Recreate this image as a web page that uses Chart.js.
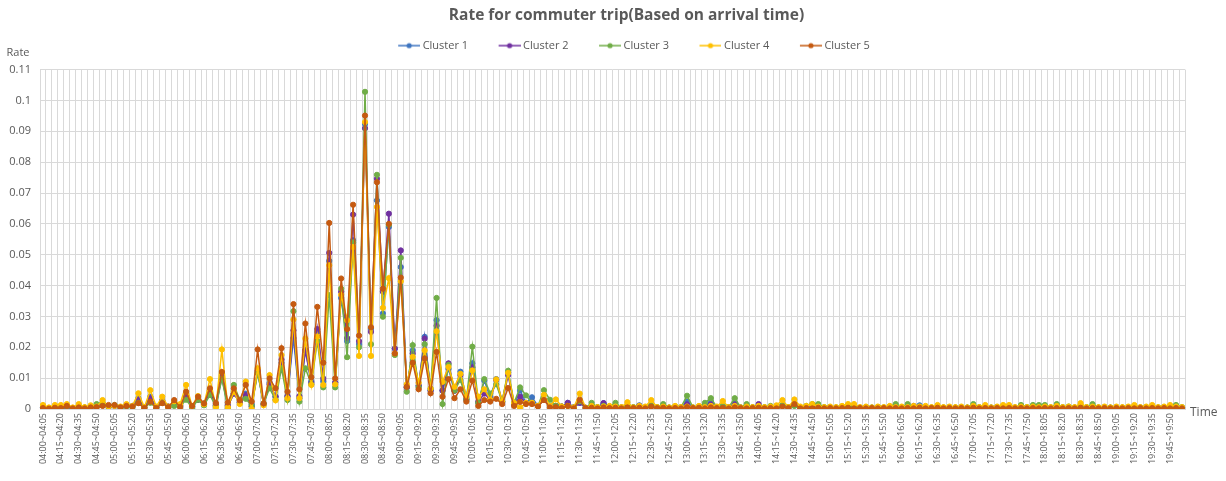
<!DOCTYPE html>
<html>
<head>
<meta charset="utf-8">
<script src="https://cdn.jsdelivr.net/npm/chart.js@4.4.1/dist/chart.umd.min.js"></script>
<style>
  html, body { margin: 0; padding: 0; background: #fff; }
  #wrap { width: 1226px; height: 481px; position: relative; }
</style>
</head>
<body>
<div id="wrap"><canvas id="chart"></canvas></div>
<script>
// 5-minute arrival slots, 04:00~04:05 ... 19:55~20:00
const slots = [];
for (let m = 4 * 60; m < 20 * 60; m += 5) {
  const f = (t) => String(Math.floor(t / 60)).padStart(2, '0') + ':' + String(t % 60).padStart(2, '0');
  slots.push(f(m) + '~' + f(m + 5));
}

const seriesNames = ['Cluster 1', 'Cluster 2', 'Cluster 3', 'Cluster 4', 'Cluster 5'];
const seriesColors = ['#3E75C0', '#7030A0', '#70AD47', '#FFC000', '#C55A11'];

const cluster1 = [
  0.0005,0.0003,0.0006,0.0004,0.0008,0.0003,0.0007,0.0004,0.0006,0.0009,0.0015,0.0008,
  0.0010,0.0006,0.0012,0.0010,0.0035,0.0005,0.0040,0.0006,0.0028,0.0008,0.0020,0.0010,
  0.0045,0.0008,0.0030,0.0018,0.0060,0.0012,0.0100,0.0010,0.0050,0.0022,0.0050,0.0015,
  0.0120,0.0015,0.0085,0.0040,0.0150,0.0040,0.0230,0.0035,0.0190,0.0090,0.0250,0.0090,
  0.0480,0.0085,0.0360,0.0220,0.0547,0.0210,0.0924,0.0260,0.0676,0.0310,0.0590,0.0196,
  0.0460,0.0070,0.0190,0.0075,0.0234,0.0060,0.0288,0.0060,0.0130,0.0060,0.0121,0.0035,
  0.0148,0.0020,0.0092,0.0040,0.0097,0.0025,0.0119,0.0015,0.0060,0.0020,0.0038,0.0010,
  0.0030,0.0010,0.0010,0.0008,0.0020,0.0005,0.0020,0.0004,0.0010,0.0005,0.0019,0.0005,
  0.0008,0.0005,0.0010,0.0004,0.0012,0.0005,0.0010,0.0004,0.0008,0.0004,0.0006,0.0005,
  0.0024,0.0004,0.0008,0.0010,0.0024,0.0005,0.0010,0.0005,0.0020,0.0005,0.0008,0.0004,
  0.0008,0.0004,0.0006,0.0004,0.0012,0.0005,0.0015,0.0004,0.0006,0.0005,0.0006,0.0004,
  0.0005,0.0004,0.0006,0.0005,0.0006,0.0004,0.0005,0.0004,0.0006,0.0004,0.0005,0.0006,
  0.0004,0.0005,0.0004,0.0012,0.0005,0.0004,0.0006,0.0004,0.0005,0.0004,0.0005,0.0004,
  0.0008,0.0004,0.0005,0.0004,0.0005,0.0006,0.0005,0.0004,0.0005,0.0004,0.0006,0.0005,
  0.0005,0.0004,0.0006,0.0004,0.0005,0.0004,0.0008,0.0004,0.0006,0.0004,0.0005,0.0004,
  0.0005,0.0004,0.0005,0.0006,0.0004,0.0005,0.0005,0.0004,0.0005,0.0006,0.0005,0.0004
];
const cluster2 = [
  0.0004,0.0003,0.0005,0.0004,0.0006,0.0003,0.0006,0.0004,0.0005,0.0008,0.0012,0.0007,
  0.0010,0.0005,0.0010,0.0009,0.0030,0.0005,0.0035,0.0005,0.0025,0.0008,0.0018,0.0010,
  0.0040,0.0008,0.0030,0.0015,0.0055,0.0012,0.0110,0.0010,0.0050,0.0022,0.0045,0.0008,
  0.0125,0.0015,0.0080,0.0040,0.0160,0.0042,0.0255,0.0042,0.0190,0.0085,0.0259,0.0099,
  0.0506,0.0085,0.0380,0.0230,0.0630,0.0220,0.0910,0.0250,0.0746,0.0380,0.0633,0.0196,
  0.0514,0.0070,0.0180,0.0075,0.0228,0.0060,0.0270,0.0060,0.0148,0.0059,0.0110,0.0030,
  0.0135,0.0024,0.0050,0.0030,0.0094,0.0022,0.0110,0.0015,0.0040,0.0020,0.0020,0.0010,
  0.0030,0.0010,0.0010,0.0008,0.0020,0.0005,0.0020,0.0004,0.0010,0.0005,0.0019,0.0005,
  0.0006,0.0004,0.0008,0.0005,0.0010,0.0004,0.0008,0.0005,0.0006,0.0004,0.0005,0.0004,
  0.0015,0.0004,0.0006,0.0008,0.0015,0.0004,0.0008,0.0005,0.0015,0.0004,0.0006,0.0005,
  0.0016,0.0004,0.0005,0.0004,0.0010,0.0005,0.0012,0.0004,0.0005,0.0004,0.0005,0.0004,
  0.0005,0.0004,0.0005,0.0004,0.0005,0.0004,0.0005,0.0004,0.0005,0.0004,0.0005,0.0004,
  0.0005,0.0004,0.0010,0.0006,0.0005,0.0004,0.0005,0.0004,0.0005,0.0004,0.0005,0.0004,
  0.0006,0.0004,0.0005,0.0004,0.0005,0.0004,0.0005,0.0004,0.0005,0.0004,0.0005,0.0004,
  0.0005,0.0004,0.0005,0.0004,0.0005,0.0004,0.0006,0.0004,0.0005,0.0004,0.0005,0.0004,
  0.0005,0.0004,0.0005,0.0004,0.0005,0.0004,0.0005,0.0004,0.0005,0.0004,0.0005,0.0004
];
const cluster3 = [
  0.0004,0.0003,0.0005,0.0004,0.0008,0.0003,0.0006,0.0005,0.0008,0.0016,0.0020,0.0008,
  0.0013,0.0004,0.0008,0.0006,0.0020,0.0005,0.0020,0.0004,0.0020,0.0006,0.0010,0.0008,
  0.0030,0.0004,0.0030,0.0012,0.0045,0.0008,0.0099,0.0002,0.0078,0.0030,0.0033,0.0010,
  0.0116,0.0018,0.0067,0.0030,0.0132,0.0029,0.0317,0.0024,0.0132,0.0080,0.0220,0.0070,
  0.0369,0.0070,0.0390,0.0168,0.0540,0.0200,0.1028,0.0210,0.0759,0.0299,0.0597,0.0175,
  0.0490,0.0056,0.0207,0.0070,0.0210,0.0066,0.0360,0.0016,0.0143,0.0060,0.0094,0.0030,
  0.0202,0.0020,0.0097,0.0050,0.0080,0.0025,0.0124,0.0020,0.0070,0.0044,0.0020,0.0010,
  0.0061,0.0030,0.0010,0.0008,0.0010,0.0005,0.0025,0.0004,0.0020,0.0006,0.0010,0.0008,
  0.0020,0.0005,0.0010,0.0006,0.0008,0.0005,0.0012,0.0006,0.0016,0.0005,0.0008,0.0006,
  0.0043,0.0005,0.0008,0.0020,0.0035,0.0006,0.0010,0.0006,0.0035,0.0005,0.0016,0.0006,
  0.0008,0.0006,0.0010,0.0005,0.0012,0.0006,0.0010,0.0005,0.0010,0.0016,0.0016,0.0006,
  0.0006,0.0005,0.0008,0.0006,0.0008,0.0005,0.0006,0.0005,0.0006,0.0005,0.0008,0.0016,
  0.0006,0.0016,0.0005,0.0008,0.0006,0.0005,0.0008,0.0005,0.0006,0.0005,0.0006,0.0005,
  0.0016,0.0006,0.0008,0.0005,0.0006,0.0008,0.0006,0.0005,0.0013,0.0006,0.0013,0.0013,
  0.0013,0.0005,0.0016,0.0006,0.0008,0.0005,0.0008,0.0006,0.0016,0.0005,0.0006,0.0005,
  0.0006,0.0005,0.0006,0.0008,0.0005,0.0006,0.0008,0.0005,0.0006,0.0008,0.0013,0.0006
];
const cluster4 = [
  0.0013,0.0005,0.0013,0.0013,0.0016,0.0005,0.0016,0.0006,0.0012,0.0008,0.0029,0.0008,
  0.0010,0.0008,0.0016,0.0010,0.0051,0.0006,0.0061,0.0008,0.0040,0.0008,0.0025,0.0016,
  0.0078,0.0010,0.0042,0.0015,0.0097,0.0006,0.0193,0.0006,0.0055,0.0016,0.0089,0.0000,
  0.0132,0.0012,0.0110,0.0028,0.0175,0.0035,0.0290,0.0035,0.0228,0.0078,0.0235,0.0078,
  0.0466,0.0080,0.0370,0.0288,0.0525,0.0172,0.0930,0.0172,0.0655,0.0328,0.0424,0.0180,
  0.0414,0.0080,0.0169,0.0085,0.0190,0.0066,0.0252,0.0088,0.0136,0.0072,0.0114,0.0040,
  0.0125,0.0040,0.0064,0.0030,0.0096,0.0025,0.0117,0.0020,0.0004,0.0020,0.0020,0.0010,
  0.0046,0.0010,0.0031,0.0008,0.0010,0.0005,0.0050,0.0004,0.0010,0.0006,0.0008,0.0010,
  0.0008,0.0006,0.0022,0.0005,0.0010,0.0008,0.0029,0.0006,0.0008,0.0005,0.0010,0.0006,
  0.0008,0.0005,0.0010,0.0006,0.0010,0.0008,0.0026,0.0006,0.0010,0.0005,0.0008,0.0006,
  0.0010,0.0006,0.0008,0.0012,0.0029,0.0006,0.0031,0.0008,0.0010,0.0016,0.0008,0.0006,
  0.0008,0.0006,0.0010,0.0016,0.0016,0.0006,0.0008,0.0005,0.0008,0.0006,0.0010,0.0006,
  0.0008,0.0006,0.0010,0.0008,0.0010,0.0006,0.0013,0.0006,0.0008,0.0006,0.0008,0.0005,
  0.0010,0.0006,0.0013,0.0005,0.0008,0.0013,0.0013,0.0006,0.0008,0.0006,0.0008,0.0006,
  0.0008,0.0006,0.0010,0.0006,0.0008,0.0006,0.0019,0.0006,0.0008,0.0006,0.0008,0.0005,
  0.0008,0.0006,0.0008,0.0013,0.0006,0.0008,0.0013,0.0006,0.0008,0.0013,0.0008,0.0006
];
const cluster5 = [
  0.0003,0.0001,0.0004,0.0003,0.0010,0.0002,0.0005,0.0002,0.0005,0.0006,0.0010,0.0013,
  0.0013,0.0005,0.0010,0.0008,0.0019,0.0003,0.0024,0.0003,0.0019,0.0006,0.0029,0.0006,
  0.0056,0.0010,0.0040,0.0018,0.0067,0.0019,0.0120,0.0021,0.0067,0.0028,0.0078,0.0024,
  0.0193,0.0018,0.0099,0.0067,0.0197,0.0056,0.0340,0.0064,0.0277,0.0103,0.0331,0.0150,
  0.0603,0.0099,0.0423,0.0259,0.0662,0.0238,0.0951,0.0265,0.0735,0.0390,0.0600,0.0180,
  0.0426,0.0072,0.0150,0.0064,0.0164,0.0051,0.0185,0.0040,0.0097,0.0035,0.0064,0.0024,
  0.0092,0.0010,0.0029,0.0024,0.0033,0.0016,0.0068,0.0010,0.0023,0.0016,0.0016,0.0008,
  0.0029,0.0005,0.0006,0.0003,0.0010,0.0002,0.0030,0.0003,0.0004,0.0002,0.0005,0.0003,
  0.0004,0.0002,0.0005,0.0003,0.0004,0.0002,0.0008,0.0003,0.0004,0.0002,0.0003,0.0002,
  0.0006,0.0003,0.0004,0.0002,0.0005,0.0003,0.0004,0.0002,0.0005,0.0003,0.0002,0.0003,
  0.0004,0.0002,0.0003,0.0002,0.0008,0.0003,0.0016,0.0002,0.0003,0.0002,0.0004,0.0002,
  0.0003,0.0002,0.0003,0.0004,0.0002,0.0003,0.0002,0.0003,0.0002,0.0003,0.0002,0.0003,
  0.0002,0.0003,0.0002,0.0004,0.0002,0.0003,0.0004,0.0002,0.0003,0.0002,0.0003,0.0002,
  0.0004,0.0002,0.0003,0.0002,0.0003,0.0002,0.0003,0.0002,0.0003,0.0002,0.0003,0.0002,
  0.0003,0.0002,0.0003,0.0002,0.0003,0.0002,0.0004,0.0002,0.0003,0.0002,0.0003,0.0002,
  0.0003,0.0002,0.0003,0.0002,0.0003,0.0002,0.0003,0.0002,0.0003,0.0002,0.0003,0.0002
];
const seriesValues = [cluster1, cluster2, cluster3, cluster4, cluster5];

const textColor = '#595959';
const gridColor = '#d9d9d9';
const font = 'Open Sans';

// legend marker: short line with a dot, like excel (drawn a bit wider than its box)
function legendIcon(color) {
  const c = document.createElement('canvas');
  c.width = 40; c.height = 8;
  const g = c.getContext('2d');
  g.strokeStyle = color; g.lineWidth = 1.5;
  g.beginPath(); g.moveTo(18, 4); g.lineTo(40, 4); g.stroke();
  g.fillStyle = color;
  g.beginPath(); g.arc(29, 4, 2.6, 0, Math.PI * 2); g.fill();
  return c;
}
const icons = seriesColors.map(legendIcon);

const axisNotes = {
  id: 'axisNotes',
  afterInit(chart) {
    const fit = chart.legend.fit;
    chart.legend.fit = function() { fit.call(this); this.height += 8.5; };
  },
  afterLayout(chart) {
    // excel centres the header a little right of the canvas centre
    chart.titleBlock.left += 27;
    chart.legend.left += 27;
  },
  afterDraw(chart) {
    const {ctx, chartArea} = chart;
    ctx.save();
    ctx.fillStyle = textColor;
    ctx.font = '11px "' + font + '"';
    ctx.textBaseline = 'middle';
    ctx.textAlign = 'center';
    ctx.fillText('Rate', chartArea.left - 22, chartArea.top - 17);
    ctx.font = '12px "' + font + '"';
    ctx.textAlign = 'left';
    ctx.fillText('Time', chartArea.right + 5, chartArea.bottom + 4);
    ctx.restore();
  }
};

new Chart(document.getElementById('chart'), {
  type: 'line',
  data: {
    labels: slots,
    datasets: seriesNames.map((name, i) => ({
      label: name,
      data: seriesValues[i],
      borderColor: seriesColors[i],
      backgroundColor: seriesColors[i],
      pointBackgroundColor: seriesColors[i],
      pointBorderColor: seriesColors[i],
      borderWidth: 1.5,
      pointRadius: 2.6,
      pointBorderWidth: 1,
      tension: 0,
      order: seriesNames.length - i
    }))
  },
  options: {
    responsive: true,
    maintainAspectRatio: false,
    animation: false,
    layout: { padding: 0 },
    plugins: {
      title: {
        display: true,
        text: 'Rate for commuter trip(Based on arrival time)',
        color: textColor,
        font: { family: font, size: 15.5, weight: 'bold' },
        padding: { top: 6, bottom: 0 }
      },
      legend: {
        display: true,
        labels: {
          usePointStyle: true,
          pointStyleWidth: 34,
          padding: 15.5,
          color: textColor,
          font: { family: font, size: 11 },
          generateLabels: (chart) => chart.data.datasets.map((ds, i) => ({
            text: ds.label,
            fillStyle: ds.borderColor,
            strokeStyle: ds.borderColor,
            lineWidth: 0,
            pointStyle: icons[i],
            fontColor: textColor,
            hidden: false,
            datasetIndex: i
          }))
        }
      },
      tooltip: { enabled: false }
    },
    scales: {
      x: {
        type: 'category',
        offset: true,
        grid: { color: gridColor, offset: true, drawTicks: false },
        border: { color: gridColor },
        afterFit: (s) => { s.height = 72; },
        ticks: {
          autoSkip: false,
          maxRotation: 90,
          minRotation: 90,
          padding: 4,
          color: textColor,
          font: { family: font, size: 9 },
          callback: function(v, i) { return i % 3 === 0 ? this.getLabelForValue(v) : ''; }
        }
      },
      y: {
        min: 0,
        max: 0.11,
        grid: { color: gridColor, drawTicks: false },
        border: { display: false },
        afterFit: (s) => { s.width = 40; },
        ticks: {
          stepSize: 0.01,
          padding: 9,
          color: textColor,
          font: { family: font, size: 11 },
          callback: (v) => String(+v.toFixed(2))
        }
      },
      y2: {
        position: 'right',
        grid: { display: false },
        border: { display: false },
        ticks: { display: false },
        afterFit: (s) => { s.width = 41; }
      }
    }
  },
  plugins: [axisNotes]
});
</script>
</body>
</html>
